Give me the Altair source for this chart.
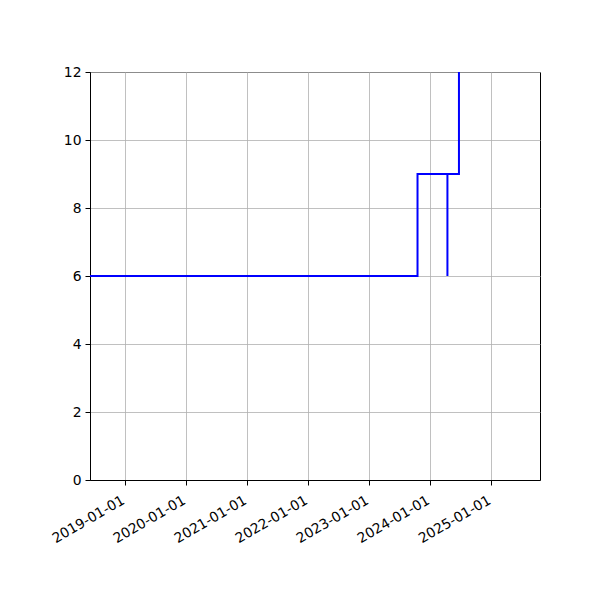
import altair as alt
import pandas as pd

dates = ["2018-06-08", "2023-10-20", "2024-04-16", "2024-04-16", "2024-06-24"]
values = [6, 9, 6, 9, 12]
order = list(range(len(dates)))

tick_years = [2019, 2020, 2021, 2022, 2023, 2024, 2025]
y_ticks = [0, 2, 4, 6, 8, 10, 12]

df = pd.DataFrame({"date": dates, "value": values, "order": order})

x_axis = alt.Axis(
    values=[alt.DateTime(year=y, month=1, date=1, utc=True) for y in tick_years],
    labelExpr="utcFormat(datum.value, '%Y-%m-%d')",
    labelAngle=-30, labelAlign="right", labelBaseline="top",
    title=None, grid=True, gridColor="#b0b0b0", gridWidth=0.8,
    domainColor="black", tickColor="black", tickSize=5, labelPadding=8,
    labelOffset=-5,
    labelFontSize=13.9, labelColor="black", labelFont="DejaVu Sans",
    labelOverlap=False, labelFlush=False,
)
y_axis = alt.Axis(
    values=y_ticks, title=None, grid=True, gridColor="#b0b0b0", gridWidth=0.8,
    domainColor="black", tickColor="black", tickSize=5, labelPadding=4,
    labelFontSize=13.9, labelColor="black", labelFont="DejaVu Sans",
)

chart = alt.Chart(df).mark_line(
    interpolate="step-after", color="#0000ff", strokeWidth=2, clip=True
).encode(
    x=alt.X("date:T", axis=x_axis, scale=alt.Scale(
        type="utc",
        domain=[alt.DateTime(year=2018, month=6, date=8, utc=True),
                alt.DateTime(year=2025, month=10, date=22, utc=True)])),
    y=alt.Y("value:Q", axis=y_axis, scale=alt.Scale(domain=[0, 12], nice=False)),
    order="order:Q",
).properties(
    width=450, height=408,
    autosize=alt.AutoSizeParams(type="none"),
    padding={"left": 82, "top": 64, "right": 50, "bottom": 100},
).configure_view(stroke="black", strokeWidth=1)

chart.save("out.html", embed_options={"renderer": "svg", "actions": False})
